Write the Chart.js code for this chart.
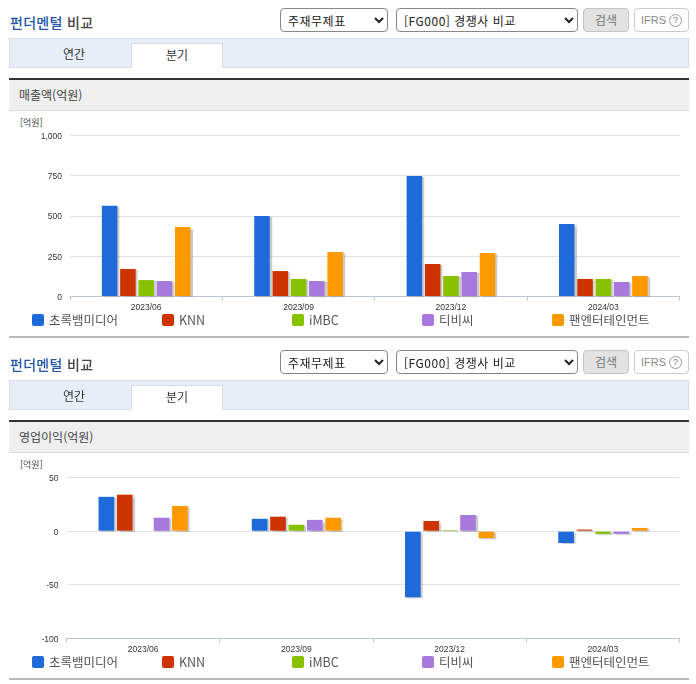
<!DOCTYPE html>
<html lang="ko">
<head>
<meta charset="utf-8">
<title>펀더멘털 비교</title>
<script src="https://cdn.jsdelivr.net/npm/chart.js@4"></script>
<style>
    html, body { margin: 0; padding: 0; background: #fff; overflow: hidden; }
    body { width: 696px; height: 684px; position: relative; font-family: "Noto Sans CJK KR", sans-serif; color: #333; }
    .panel { position: absolute; left: 0; width: 696px; height: 342px; }
    .panel > * { position: absolute; box-sizing: border-box; }
    .title { left: 10px; top: 12px; font-size: 14px; letter-spacing: 0.3px; line-height: 20px; font-weight: 500; color: #444; white-space: pre; }
    .title b { font-weight: 500; color: #2456a8; }
    select { top: 8px; height: 24px; font: 12px "Noto Sans CJK KR", sans-serif; letter-spacing: 0.5px; color: #222; background: #fff; border: 1px solid #888; border-radius: 4px; padding-left: 3px; }
    .btn { top: 8px; height: 24px; border-radius: 4px; font-size: 12px; line-height: 22px; text-align: center; }
    .search { left: 583px; width: 46px; background: #e2e2e2; border: 1px solid #c4c4c4; color: #777; }
    .ifrs { left: 634px; width: 55px; background: #fff; border: 1px solid #ccc; color: #888; font: 11px/22px "Liberation Sans", sans-serif; display: flex; align-items: center; justify-content: center; }
    .ifrs i { display: block; width: 13px; height: 13px; margin-left: 3px; box-sizing: border-box; border: 1px solid #999; border-radius: 50%; font: normal 9px/11px "Liberation Sans", sans-serif; color: #777; }
    .tabs { left: 9px; top: 38px; width: 680px; height: 30px; background: #e8eef8; border: 1px solid #d6dde8; }
    .tab { font-size: 12px; line-height: 22px; text-align: center; top: 43px; height: 25px; width: 92px; }
    .tab.year { left: 28px; }
    .tab.quarter { left: 131px; background: #fff; border: 1px solid #d6dde8; border-bottom: 0; }
    .head { left: 9px; top: 78px; width: 680px; height: 33px; background: #efefef; border-top: 2px solid #333; border-bottom: 1px solid #ddd; font-size: 12px; line-height: 30px; padding-left: 10px; color: #444; }
    .unit { left: 20px; top: 116px; font-size: 9px; line-height: 13px; color: #444; }
    canvas { left: 0; top: 112px; }
    .legend-item { top: 310px; font-size: 12.5px; line-height: 20px; color: #555; padding-left: 17px; white-space: nowrap; }
    .legend-item span { position: absolute; left: 0; top: 4px; width: 12px; height: 12px; border-radius: 2px; }
    .rule { left: 9px; top: 336px; width: 680px; height: 2px; background: #bbb; }
</style>
</head>
<body>
<script>
// --- Chart data ---
const categories = ['2023/06', '2023/09', '2023/12', '2024/03'];
const seriesNames = ['초록뱀미디어', 'KNN', 'iMBC', '티비씨', '팬엔터테인먼트'];
const seriesColors = ['#1f6adb', '#cc3300', '#88c100', '#a779dc', '#ff9900'];

const salesChorok = [564, 500, 748, 450];
const salesKnn = [171, 158, 202, 109];
const salesImbc = [102, 109, 127, 109];
const salesTbc = [96, 96, 152, 90];
const salesPan = [432, 276, 270, 127];

const profitChorok = [32, 11.5, -61.5, -11];
const profitKnn = [34, 13.5, 9.5, 1.5];
const profitImbc = [null, 6, 1, -2.5];
const profitTbc = [12.5, 10.5, 15, -2.5];
const profitPan = [23.5, 12.5, -6.5, 3];

const salesTicks = { min: 0, max: 1000, stepSize: 250 };
const profitTicks = { min: -100, max: 50, stepSize: 50 };

// Grey drop shadow behind the bars
const barShadow = {
    id: 'barShadow',
    beforeDatasetsDraw(chart) {
        const ctx = chart.ctx;
        ctx.save();
        ctx.shadowColor = 'rgba(150,150,150,0.5)';
        ctx.shadowBlur = 1;
        ctx.shadowOffsetX = 2;
        ctx.shadowOffsetY = 1;
    },
    afterDatasetsDraw(chart) {
        chart.ctx.restore();
    }
};

// Y labels sit a little under their grid line in the original
const nudgeYLabels = {
    id: 'nudgeYLabels',
    beforeDraw(chart) {
        chart.scales.y.getLabelItems().forEach(item => {
            item.options.translation[1] += 1;
        });
    }
};

function buildPanel(top, heading) {
    const panel = document.createElement('div');
    panel.className = 'panel';
    panel.style.top = top + 'px';
    panel.innerHTML = `
        <div class="title"><b>펀더멘털</b> 비교</div>
        <select style="left:280px;width:108px"><option>주재무제표</option></select>
        <select style="left:396px;width:182px"><option>[FG000] 경쟁사 비교</option></select>
        <div class="btn search">검색</div>
        <div class="btn ifrs">IFRS<i>?</i></div>
        <div class="tabs"></div>
        <div class="tab year">연간</div>
        <div class="tab quarter">분기</div>
        <div class="head">${heading}</div>
        <div class="unit">[억원]</div>
        <canvas width="696" height="205" style="width:696px;height:205px"></canvas>
        <div class="rule"></div>`;
    seriesNames.forEach((name, i) => {
        const item = document.createElement('div');
        item.className = 'legend-item';
        item.style.left = (32 + i * 130) + 'px';
        item.innerHTML = `<span style="background:${seriesColors[i]}"></span>${name}`;
        panel.appendChild(item);
    });
    document.body.appendChild(panel);
    return panel.querySelector('canvas');
}

function drawChart(canvas, seriesValues, ticks, opts) {
    return new Chart(canvas.getContext('2d'), {
        type: 'bar',
        data: {
            labels: categories,
            datasets: seriesValues.map((values, i) => ({
                label: seriesNames[i],
                data: values,
                backgroundColor: seriesColors[i],
                barPercentage: 0.85,
                categoryPercentage: 0.6,
                clip: false
            }))
        },
        plugins: [barShadow, nudgeYLabels],
        options: {
            responsive: false,
            animation: false,
            devicePixelRatio: 1,
            layout: { padding: { top: 23.5, right: 16.5, bottom: 0, left: 0 } },
            plugins: { legend: { display: false }, tooltip: { enabled: false } },
            scales: {
                x: {
                    position: 'bottom',
                    afterFit: (scale) => { scale.height = opts.axisHeight; },
                    grid: { drawOnChartArea: false, color: '#bcc6d6', tickLength: 4, offset: true },
                    border: { color: '#bcc6d6' },
                    ticks: { color: '#333', font: { family: 'Liberation Sans', size: 8.5 }, padding: 2, maxRotation: 0 }
                },
                y: {
                    min: ticks.min,
                    max: ticks.max,
                    afterFit: (scale) => { scale.width = opts.axisWidth; },
                    grid: { color: '#dfe3e8', drawTicks: false },
                    border: { display: false },
                    ticks: { stepSize: ticks.stepSize, color: '#333', font: { family: 'Liberation Sans', size: 8.5 }, padding: 8 }
                }
            }
        }
    });
}

drawChart(buildPanel(0, '매출액(억원)'),
    [salesChorok, salesKnn, salesImbc, salesTbc, salesPan],
    salesTicks, { axisWidth: 70, axisHeight: 20.5 });
drawChart(buildPanel(342, '영업이익(억원)'),
    [profitChorok, profitKnn, profitImbc, profitTbc, profitPan],
    profitTicks, { axisWidth: 66.5, axisHeight: 20.5 });
</script>
</body>
</html>
